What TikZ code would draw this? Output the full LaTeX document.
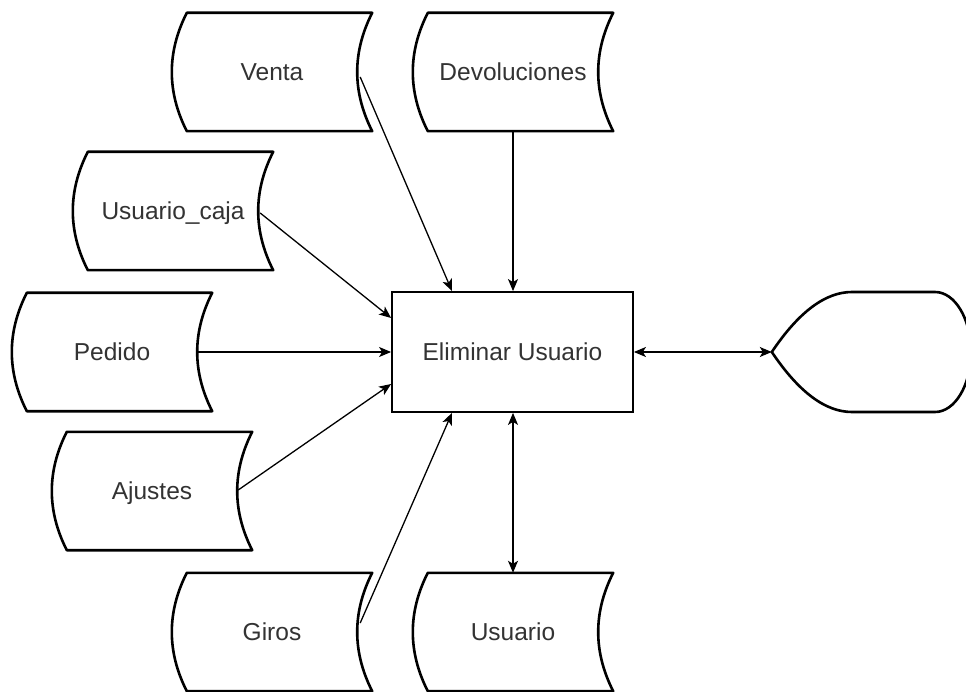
\documentclass[tikz,border=0pt]{standalone}
\usepackage{fontspec}
\setmainfont{Liberation Sans}
\usetikzlibrary{arrows.meta,calc}
\definecolor{txt}{HTML}{333333}
\begin{document}
\begin{tikzpicture}[x=1pt,y=-1pt,
  lbl/.style={text=txt,font=\fontsize{24.5}{29}\selectfont,text height=17.5pt,text depth=0pt},
  store/.style={lbl,minimum width=200pt,minimum height=118pt,inner sep=0pt},
  outl/.style={line width=2.6pt,line join=round},
  proc/.style={lbl,draw,line width=1.8pt,minimum width=241pt,minimum height=120pt,inner sep=0pt},
  tip/.tip={Stealth[length=12pt,width=10pt,inset=3pt]},
  conn/.style={line width=1.3pt,-tip},
  bconn/.style={line width=1.3pt,tip-tip}]
\useasboundingbox (0,0) rectangle (966,692);
\fill[white] (0,0) rectangle (966,692);

\node[store] (venta)   at (272,72)  {Venta};
\node[store] (devol)   at (513,72)  {Devoluciones};
\node[store] (ucaja)   at (173,211) {Usuario\_caja};
\node[store] (pedido)  at (112,352) {Pedido};
\node[store] (ajustes) at (152,491) {Ajustes};
\node[store] (giros)   at (272,632) {Giros};
\node[store] (usuario) at (513,632) {Usuario};
\node[proc]  (rect)    at (512.5,352) {Eliminar Usuario};
\node[minimum width=199pt,minimum height=120pt,inner sep=0pt] (disp) at (871.5,352) {};

\foreach \n in {venta,devol,ucaja,pedido,ajustes,giros,usuario}{
  \draw[outl] ($(\n.north west)+(15pt,0pt)$) -- (\n.north east)
    .. controls ($(\n.north east)+(-20pt,-39.3pt)$) and ($(\n.south east)+(-20pt,39.3pt)$) .. (\n.south east)
    -- ($(\n.south west)+(15pt,0pt)$)
    .. controls ($(\n.south west)+(-5pt,39.3pt)$) and ($(\n.north west)+(-5pt,-39.3pt)$) .. ($(\n.north west)+(15pt,0pt)$)
    -- cycle;
}

\draw[outl] (disp.west) .. controls (798.67,312) and (825.33,292) .. (852,292) -- (935,292)
  arc[start angle=90,end angle=-90,x radius=36pt,y radius=60pt]
  -- (852,412) .. controls (825.33,412) and (798.67,392) .. (disp.west) -- cycle;

\draw[conn] ($(venta.east)+(-12pt,-5pt)$) -- ($(rect.north)+(-60.5pt,0pt)$);
\draw[conn] (devol.south) -- (devol.south |- rect.north);
\draw[conn] ($(ucaja.east)+(-13pt,-2pt)$) -- ($(rect.west)+(0pt,34pt)$);
\draw[conn] ($(pedido.east)+(-14pt,0pt)$) -- (rect.west);
\draw[conn] ($(ajustes.east)+(-14pt,1pt)$) -- ($(rect.west)+(0pt,-32pt)$);
\draw[conn] ($(giros.east)+(-12pt,9pt)$) -- ($(rect.south)+(-60.5pt,0pt)$);
\draw[bconn] (rect.south -| usuario.north) -- (usuario.north);
\draw[bconn] (rect.east) -- (disp.west);
\end{tikzpicture}
\end{document}
